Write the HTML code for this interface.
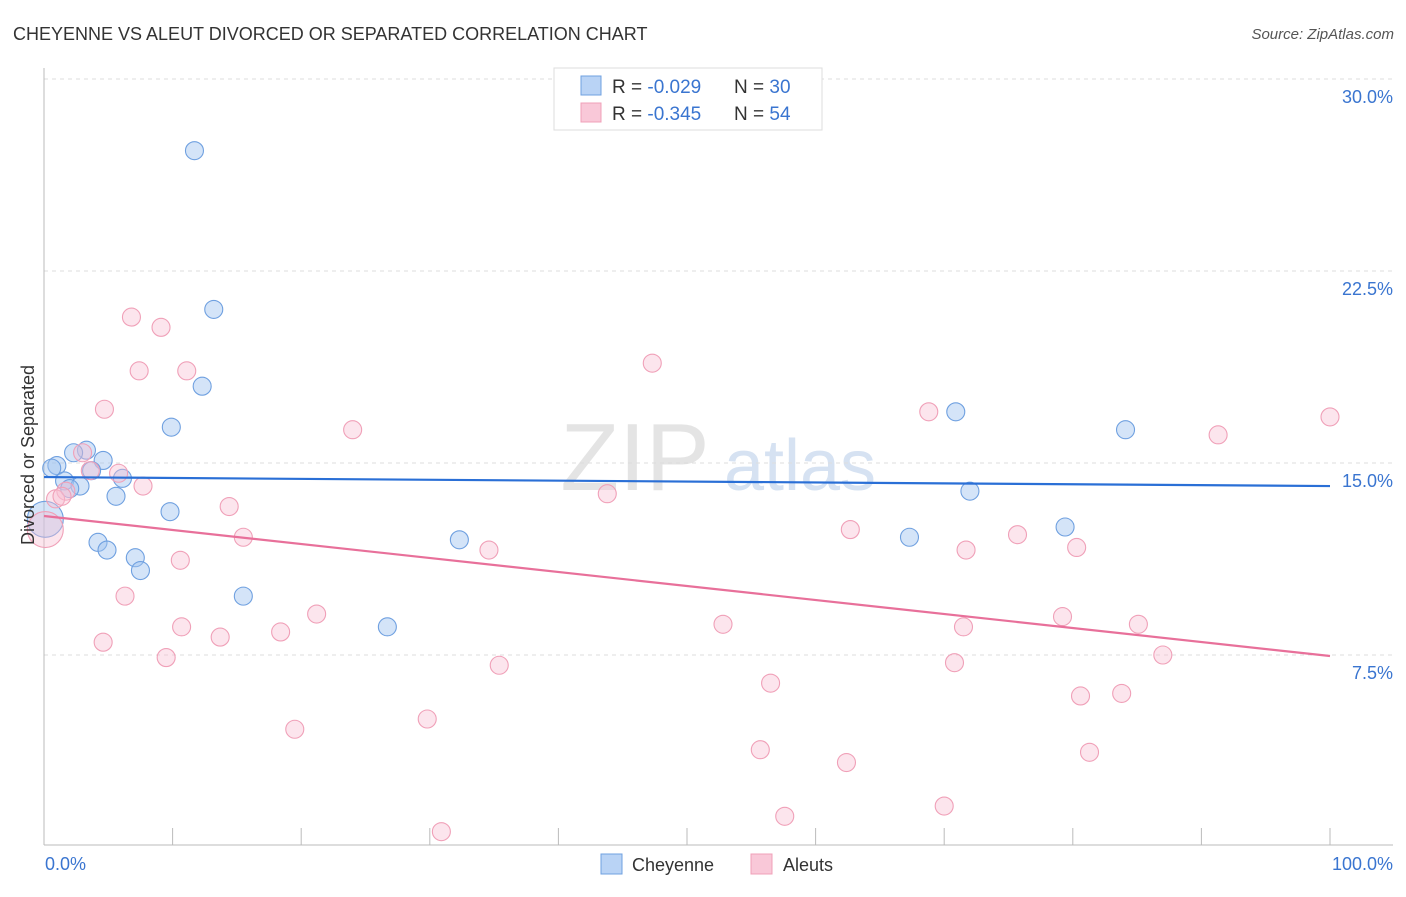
<!DOCTYPE html>
<html><head><meta charset="utf-8">
<style>
body{margin:0;background:#fff;font-family:"Liberation Sans",sans-serif;}
svg text{font-family:"Liberation Sans",sans-serif;}
</style></head>
<body>
<svg id="chart" width="1406" height="892" viewBox="0 0 1406 892" xmlns="http://www.w3.org/2000/svg">
<text x="13" y="40" font-size="18" fill="#333">CHEYENNE VS ALEUT DIVORCED OR SEPARATED CORRELATION CHART</text>
<text x="1394" y="39" font-size="15" fill="#555" text-anchor="end" font-style="italic">Source: ZipAtlas.com</text>
<g>
<text x="635" y="490" font-size="96" fill="#e4e4e4" text-anchor="middle" font-family="Liberation Serif,serif">ZIP</text>
<text x="800" y="490" font-size="72" fill="#d6e2f2" text-anchor="middle">atlas</text>
</g>
<g id="grid"></g>
<g id="axes"></g>
<g id="pts"></g>
<g id="trends"></g>
<text transform="translate(34,455) rotate(-90)" font-size="18" fill="#333" text-anchor="middle">Divorced or Separated</text>
<text x="45" y="870" font-size="18" fill="#3a75d0">0.0%</text>
<text x="1393" y="870" font-size="18" fill="#3a75d0" text-anchor="end">100.0%</text>
<g>
<rect x="554" y="68" width="268" height="62" fill="#fff" stroke="#ddd"/>
<g>
<rect x="581" y="76" width="20" height="19" fill="#b9d3f5" stroke="#6fa0e0"/>
<text x="612" y="93" font-size="19" fill="#333">R = <tspan fill="#3a75d0">-0.029</tspan></text>
<text x="734" y="93" font-size="19" fill="#333">N = <tspan fill="#3a75d0">30</tspan></text>
</g>
<g>
<rect x="581" y="103" width="20" height="19" fill="#f9c8d8" stroke="#f0a0b8"/>
<text x="612" y="120" font-size="19" fill="#333">R = <tspan fill="#3a75d0">-0.345</tspan></text>
<text x="734" y="120" font-size="19" fill="#333">N = <tspan fill="#3a75d0">54</tspan></text>
</g>
</g>
<g>
<g>
<rect x="601" y="854" width="21" height="20" fill="#b9d3f5" stroke="#6fa0e0"/>
<text x="632" y="871" font-size="18" fill="#333">Cheyenne</text></g>
<g>
<rect x="751" y="854" width="21" height="20" fill="#f9c8d8" stroke="#f0a0b8"/>
<text x="783" y="871" font-size="18" fill="#333">Aleuts</text></g>
</g>
</svg>
<script>
const yTicks=[7.5,15,22.5,30];
const yTickLabels=["7.5%","15.0%","22.5%","30.0%"];
const cheyenneX=[11.7,13.2,12.3,9.9,70.9,84.1,1.0,3.3,2.3,4.6,0.6,1.6,2.8,2.0,3.7,6.1,5.6,72.0,9.8,79.4,67.3,32.3,4.2,4.9,7.1,7.5,15.5,26.7,0.1];
const cheyenneY=[27.2,21.0,18.0,16.4,17.0,16.3,14.9,15.5,15.4,15.1,14.8,14.3,14.1,14.0,14.7,14.4,13.7,13.9,13.1,12.5,12.1,12.0,11.9,11.6,11.3,10.8,9.8,8.6,12.8];
const aleutX=[6.8,9.1,7.4,11.1,47.3,4.7,24.0,68.8,91.3,100,3.0,3.6,5.8,7.7,1.7,0.9,1.4,43.8,14.4,15.5,62.7,75.7,34.6,71.7,80.3,10.6,6.3,21.2,79.2,10.7,18.4,52.8,71.5,85.1,13.7,4.6,9.5,35.4,70.8,87.0,56.5,80.6,83.8,19.5,29.8,55.7,81.3,62.4,70.0,57.6,30.9,0.1];
const aleutY=[20.7,20.3,18.6,18.6,18.9,17.1,16.3,17.0,16.1,16.8,15.4,14.7,14.6,14.1,13.9,13.6,13.7,13.8,13.3,12.1,12.4,12.2,11.6,11.6,11.7,11.2,9.8,9.1,9.0,8.6,8.4,8.7,8.6,8.7,8.2,8.0,7.4,7.1,7.2,7.5,6.4,5.9,6.0,4.6,5.0,3.8,3.7,3.3,1.6,1.2,0.6,12.4];
const cheyenneTrend=[14.45,14.1];
const aleutTrend=[12.93,7.46];

const NS="http://www.w3.org/2000/svg";
const X0=44,X1=1330,YB=847,PXPER=25.6;
function sx(v){return X0+(X1-X0)*v/100;}
function sy(v){return YB-v*PXPER;}
function mk(tag,attrs,parent){const e=document.createElementNS(NS,tag);for(const k in attrs)e.setAttribute(k,attrs[k]);parent.appendChild(e);return e;}
const grid=document.getElementById('grid'),axes=document.getElementById('axes'),pts=document.getElementById('pts'),tr=document.getElementById('trends');
yTicks.forEach((t,i)=>{
  const l=mk('line',{x1:44,x2:1393,y1:sy(t),y2:sy(t),stroke:'#ddd','stroke-dasharray':'4,4'},grid);
  
  
  const tx=mk('text',{x:1393,y:sy(t)+24,'font-size':18,fill:'#3a75d0','text-anchor':'end'},grid);
  tx.textContent=yTickLabels[i];
  
  
});
const ya=mk('line',{x1:44,x2:44,y1:68,y2:845,stroke:'#bbb'},axes);


const xa=mk('line',{x1:44,x2:1393,y1:845,y2:845,stroke:'#bbb'},axes);


for(let i=0;i<=10;i++){
  const t=mk('line',{x1:sx(i*10),x2:sx(i*10),y1:828,y2:845,stroke:'#bbb'},axes);
  
  
}
function series(xs,ys,fill,stroke,name){
  xs.forEach((x,i)=>{
    const big=i===xs.length-1;
    const c=mk('circle',{cx:sx(x),cy:sy(ys[i]),r:big?18:9,fill:fill,stroke:stroke,'stroke-width':1.1},pts);
    
    
  });
}
series(cheyenneX,cheyenneY,'rgba(160,195,240,0.45)','#6fa0e0','cheyenne-point');
series(aleutX,aleutY,'rgba(248,190,210,0.4)','#f0a0b8','aleut-point');
const l1=mk('line',{x1:sx(0),y1:sy(cheyenneTrend[0]),x2:sx(100),y2:sy(cheyenneTrend[1]),stroke:'#2a6fd6','stroke-width':2.2},tr);


const l2=mk('line',{x1:sx(0),y1:sy(aleutTrend[0]),x2:sx(100),y2:sy(aleutTrend[1]),stroke:'#e8709a','stroke-width':2.2},tr);


</script>
</body></html>
